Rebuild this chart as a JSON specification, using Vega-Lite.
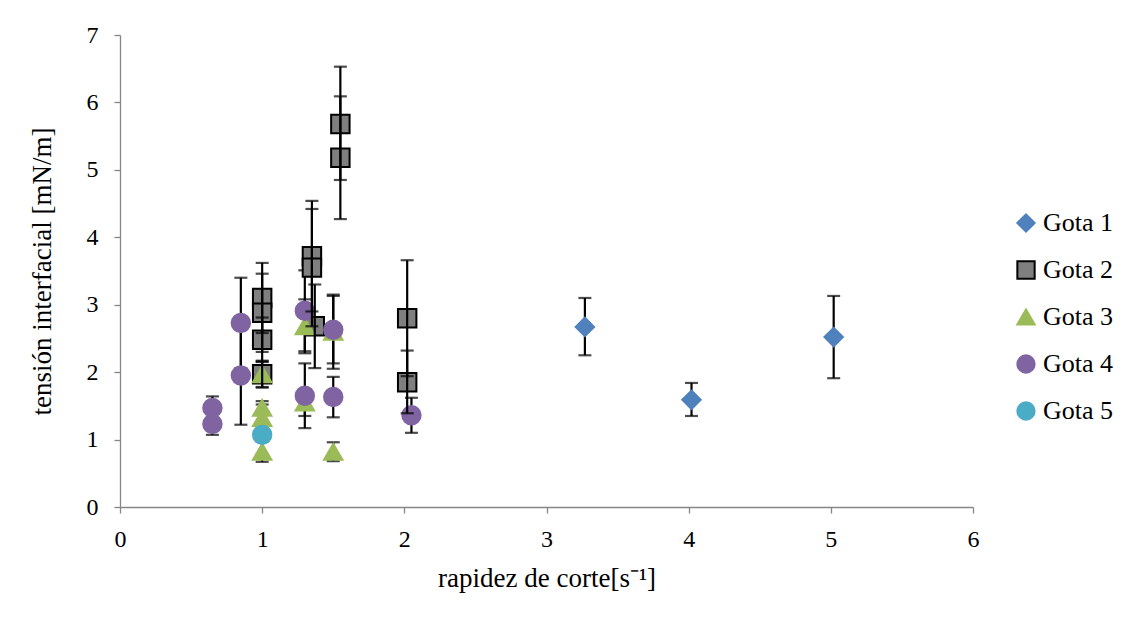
{
  "$schema": "https://vega.github.io/schema/vega-lite/v6.json",
  "width": 853,
  "height": 472,
  "autosize": "none",
  "padding": {"left": 120, "top": 35, "right": 160, "bottom": 117},
  "background": "white",
  "config": {
    "view": {"stroke": null},
    "font": "Liberation Serif",
    "axis": {
      "grid": false,
      "domainColor": "#868686",
      "tickColor": "#868686",
      "domainWidth": 1.3,
      "tickWidth": 1.3,
      "tickSize": 6,
      "labelColor": "#000000",
      "labelFontSize": 24,
      "labelFlush": false,
      "titleFontSize": 27,
      "titleFontWeight": "normal",
      "titleColor": "#000000"
    }
  },
  "data": {
    "values": [
      {"gota": "Gota 1", "x": 3.27, "y": 2.67, "lo": 2.25, "hi": 3.10},
      {"gota": "Gota 1", "x": 4.02, "y": 1.59, "lo": 1.35, "hi": 1.84},
      {"gota": "Gota 1", "x": 5.02, "y": 2.52, "lo": 1.91, "hi": 3.13},
      {"gota": "Gota 2", "x": 1.0, "y": 3.10, "lo": 2.58, "hi": 3.62},
      {"gota": "Gota 2", "x": 1.0, "y": 2.88, "lo": 2.30, "hi": 3.46},
      {"gota": "Gota 2", "x": 1.0, "y": 2.48, "lo": 2.15, "hi": 2.81},
      {"gota": "Gota 2", "x": 1.0, "y": 1.97, "lo": 1.78, "hi": 2.16},
      {"gota": "Gota 2", "x": 1.35, "y": 3.72, "lo": 2.90, "hi": 4.54},
      {"gota": "Gota 2", "x": 1.35, "y": 3.55, "lo": 2.68, "hi": 4.42},
      {"gota": "Gota 2", "x": 1.37, "y": 2.68, "lo": 2.06, "hi": 3.30},
      {"gota": "Gota 2", "x": 1.55, "y": 5.68, "lo": 4.85, "hi": 6.53},
      {"gota": "Gota 2", "x": 1.55, "y": 5.18, "lo": 4.27, "hi": 6.09},
      {"gota": "Gota 2", "x": 2.02, "y": 2.80, "lo": 1.94, "hi": 3.66},
      {"gota": "Gota 2", "x": 2.02, "y": 1.85, "lo": 1.39, "hi": 2.32},
      {"gota": "Gota 3", "x": 1.0, "y": 1.97, "lo": 1.77, "hi": 2.17},
      {"gota": "Gota 3", "x": 1.0, "y": 1.47, "lo": 1.37, "hi": 1.57},
      {"gota": "Gota 3", "x": 1.0, "y": 1.32, "lo": 1.12, "hi": 1.52},
      {"gota": "Gota 3", "x": 1.0, "y": 0.82, "lo": 0.67, "hi": 0.97},
      {"gota": "Gota 3", "x": 1.3, "y": 2.68, "lo": 2.28, "hi": 3.08},
      {"gota": "Gota 3", "x": 1.3, "y": 1.55, "lo": 1.35, "hi": 1.75},
      {"gota": "Gota 3", "x": 1.5, "y": 2.60, "lo": 2.05, "hi": 3.15},
      {"gota": "Gota 3", "x": 1.5, "y": 0.82, "lo": 0.68, "hi": 0.96},
      {"gota": "Gota 4", "x": 0.65, "y": 1.47, "lo": 1.30, "hi": 1.64},
      {"gota": "Gota 4", "x": 0.65, "y": 1.23, "lo": 1.07, "hi": 1.39},
      {"gota": "Gota 4", "x": 0.85, "y": 2.73, "lo": 2.06, "hi": 3.40},
      {"gota": "Gota 4", "x": 0.85, "y": 1.95, "lo": 1.22, "hi": 2.68},
      {"gota": "Gota 4", "x": 1.3, "y": 2.91, "lo": 2.31, "hi": 3.51},
      {"gota": "Gota 4", "x": 1.3, "y": 1.65, "lo": 1.17, "hi": 2.13},
      {"gota": "Gota 4", "x": 1.5, "y": 2.63, "lo": 2.13, "hi": 3.13},
      {"gota": "Gota 4", "x": 1.5, "y": 1.63, "lo": 1.33, "hi": 1.93},
      {"gota": "Gota 4", "x": 2.05, "y": 1.36, "lo": 1.10, "hi": 1.62},
      {"gota": "Gota 5", "x": 1.0, "y": 1.07, "lo": null, "hi": null}
    ]
  },
  "layer": [
    {
      "transform": [{"filter": "datum.lo != null && datum.gota != 'Gota 2'"}],
      "mark": {"type": "errorbar", "ticks": {"size": 13, "thickness": 2.2, "color": "black"}, "thickness": 2.2, "color": "black"},
      "encoding": {
        "x": {
          "field": "x", "type": "quantitative", "title": "rapidez de corte[s⁻¹]",
          "scale": {"domain": [0, 6], "nice": false},
          "axis": {"values": [0, 1, 2, 3, 4, 5, 6], "format": "d", "labelPadding": 14, "titlePadding": 14}
        },
        "y": {
          "field": "lo", "type": "quantitative", "title": "tensión interfacial [mN/m]",
          "scale": {"domain": [0, 7], "nice": false},
          "axis": {"values": [0, 1, 2, 3, 4, 5, 6, 7], "format": "d", "labelPadding": 16, "titlePadding": 30}
        },
        "y2": {"field": "hi"}
      }
    },
    {
      "mark": {"type": "point", "filled": true, "size": 340, "opacity": 1, "strokeWidth": 2},
      "encoding": {
        "x": {
          "field": "x", "type": "quantitative", "title": "rapidez de corte[s⁻¹]",
          "scale": {"domain": [0, 6], "nice": false},
          "axis": {"values": [0, 1, 2, 3, 4, 5, 6], "format": "d", "labelPadding": 14, "titlePadding": 14}
        },
        "y": {
          "field": "y", "type": "quantitative", "title": "tensión interfacial [mN/m]",
          "scale": {"domain": [0, 7], "nice": false},
          "axis": {"values": [0, 1, 2, 3, 4, 5, 6, 7], "format": "d", "labelPadding": 16, "titlePadding": 30}
        },
        "fill": {
          "field": "gota", "type": "nominal",
          "scale": {"domain": ["Gota 1", "Gota 2", "Gota 3", "Gota 4", "Gota 5"], "range": ["#4F81BD", "#7F7F7F", "#9BBB59", "#8064A2", "#4BACC6"]},
          "legend": {"title": null, "orient": "none", "legendX": 893, "legendY": 175, "labelFontSize": 26, "labelColor": "#000000", "symbolSize": 300, "rowPadding": 21, "labelOffset": 4, "symbolStrokeWidth": 2}
        },
        "stroke": {
          "field": "gota", "type": "nominal",
          "scale": {"domain": ["Gota 1", "Gota 2", "Gota 3", "Gota 4", "Gota 5"], "range": ["#4F81BD", "#000000", "#9BBB59", "#8064A2", "#4BACC6"]}
        },
        "shape": {
          "field": "gota", "type": "nominal",
          "scale": {"domain": ["Gota 1", "Gota 2", "Gota 3", "Gota 4", "Gota 5"], "range": ["diamond", "square", "triangle-up", "circle", "circle"]}
        }
      }
    },
    {
      "transform": [{"filter": "datum.gota == 'Gota 2'"}],
      "mark": {"type": "errorbar", "ticks": {"size": 13, "thickness": 2.2, "color": "black"}, "thickness": 2.2, "color": "black"},
      "encoding": {
        "x": {
          "field": "x", "type": "quantitative", "title": "rapidez de corte[s⁻¹]",
          "scale": {"domain": [0, 6], "nice": false},
          "axis": {"values": [0, 1, 2, 3, 4, 5, 6], "format": "d", "labelPadding": 14, "titlePadding": 14}
        },
        "y": {
          "field": "lo", "type": "quantitative", "title": "tensión interfacial [mN/m]",
          "scale": {"domain": [0, 7], "nice": false},
          "axis": {"values": [0, 1, 2, 3, 4, 5, 6, 7], "format": "d", "labelPadding": 16, "titlePadding": 30}
        },
        "y2": {"field": "hi"}
      }
    }
  ]
}
